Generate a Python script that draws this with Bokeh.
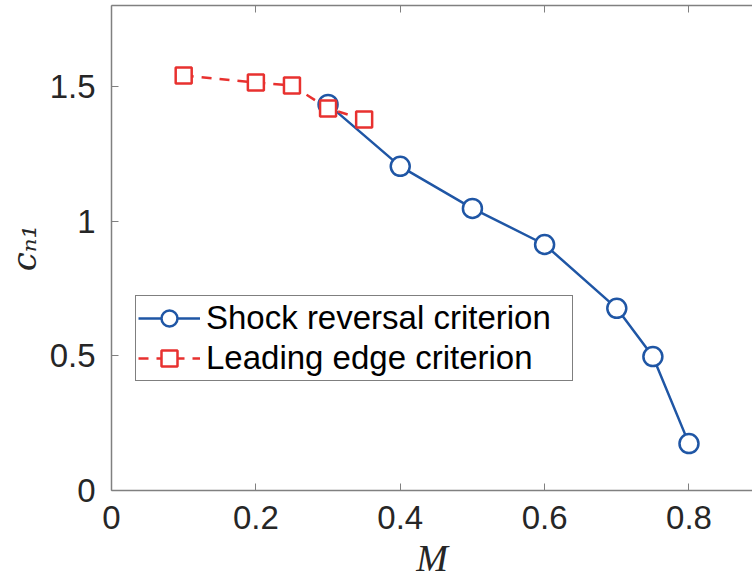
from bokeh.plotting import figure
from bokeh.models import FixedTicker, LinearAxis, Legend, LegendItem, Range1d
from bokeh.embed import file_html
from bokeh.resources import INLINE

# Data
shock_M = [0.3, 0.4, 0.5, 0.6, 0.7, 0.75, 0.8]
shock_cn1 = [1.433, 1.203, 1.047, 0.913, 0.676, 0.497, 0.174]
lead_M = [0.1, 0.2, 0.25, 0.3, 0.35]
lead_cn1 = [1.540, 1.514, 1.503, 1.418, 1.377]
x_ticks = [0, 0.2, 0.4, 0.6, 0.8]
x_tick_labels = ["0", "0.2", "0.4", "0.6", "0.8"]
y_ticks = [0, 0.5, 1, 1.5]
y_tick_labels = ["0", "0.5", "1", "1.5"]
series_names = ["Shock reversal criterion", "Leading edge criterion"]
x_title = "M"
y_title = "c\u2099\u2081"

BLUE = "#1f56a5"
RED = "#e8312f"
AXC = "#808080"
TXT = "#262626"

p = figure(width=752, height=582, output_backend="svg", toolbar_location=None,
           x_range=Range1d(0, 0.888), y_range=Range1d(0, 1.8),
           min_border_left=109, min_border_right=0, min_border_top=5, min_border_bottom=92,
           x_axis_location="below", y_axis_location="left")
p.outline_line_color = None
p.grid.visible = False
p.background_fill_color = "white"
p.border_fill_color = "white"

xax = p.below[0]
yax = p.left[0]
for ax, ticks, labels in ((xax, x_ticks, x_tick_labels), (yax, y_ticks, y_tick_labels)):
    ax.ticker = FixedTicker(ticks=ticks)
    ax.major_label_overrides = {t: l for t, l in zip(ticks, labels)}
    ax.minor_tick_line_color = None
    ax.major_tick_in = 7
    ax.major_tick_out = 0
    ax.axis_line_color = AXC
    ax.major_tick_line_color = AXC
    ax.axis_line_width = 1.5
    ax.major_label_text_font = "Liberation Sans"
    ax.major_label_text_font_size = "33px"
    ax.major_label_text_color = TXT
xax.major_label_standoff = 15
yax.major_label_standoff = 16

top = LinearAxis(ticker=FixedTicker(ticks=x_ticks), major_label_text_font_size="0px",
                 major_label_standoff=0, axis_label_standoff=0,
                 major_tick_in=7, major_tick_out=0, minor_tick_line_color=None,
                 axis_line_color=AXC, major_tick_line_color=AXC, axis_line_width=1.5,
                 major_label_text_color=None)
top.major_label_overrides = {t: "" for t in x_ticks}
p.add_layout(top, "above")

# Axis titles
xax.axis_label = x_title
xax.axis_label_text_font = "Liberation Serif"
xax.axis_label_text_font_style = "italic"
xax.axis_label_text_font_size = "38px"
xax.axis_label_text_color = TXT
xax.axis_label_standoff = 5

yax.axis_label = y_title
yax.axis_label_text_font = "DejaVu Serif"
yax.axis_label_text_font_style = "italic"
yax.axis_label_text_font_size = "34px"
yax.axis_label_text_color = TXT
yax.axis_label_standoff = 3

l1 = p.line(shock_M, shock_cn1, line_color=BLUE, line_width=2.5)
s1 = p.scatter(shock_M, shock_cn1, marker="circle", size=19, fill_color="white",
               line_color=BLUE, line_width=2.5)
l2 = p.line(lead_M, lead_cn1, line_color=RED, line_width=2.5, line_dash="10 8")
s2 = p.scatter(lead_M, lead_cn1, marker="square", size=16, fill_color="white",
               line_color=RED, line_width=2.5)

legend = Legend(items=[LegendItem(label=series_names[0], renderers=[l1, s1]),
                       LegendItem(label=series_names[1], renderers=[l2, s2])],
                location=(24, 109), padding=2, spacing=0, margin=0,
                label_height=40, glyph_height=40, glyph_width=62, label_standoff=6,
                label_width=364,
                label_text_font="Liberation Sans", label_text_font_size="33px",
                label_text_color="black", border_line_color="black", border_line_width=1,
                background_fill_color="white", background_fill_alpha=1)
p.add_layout(legend, "center")

open("out.html", "w").write(file_html(p, INLINE))
